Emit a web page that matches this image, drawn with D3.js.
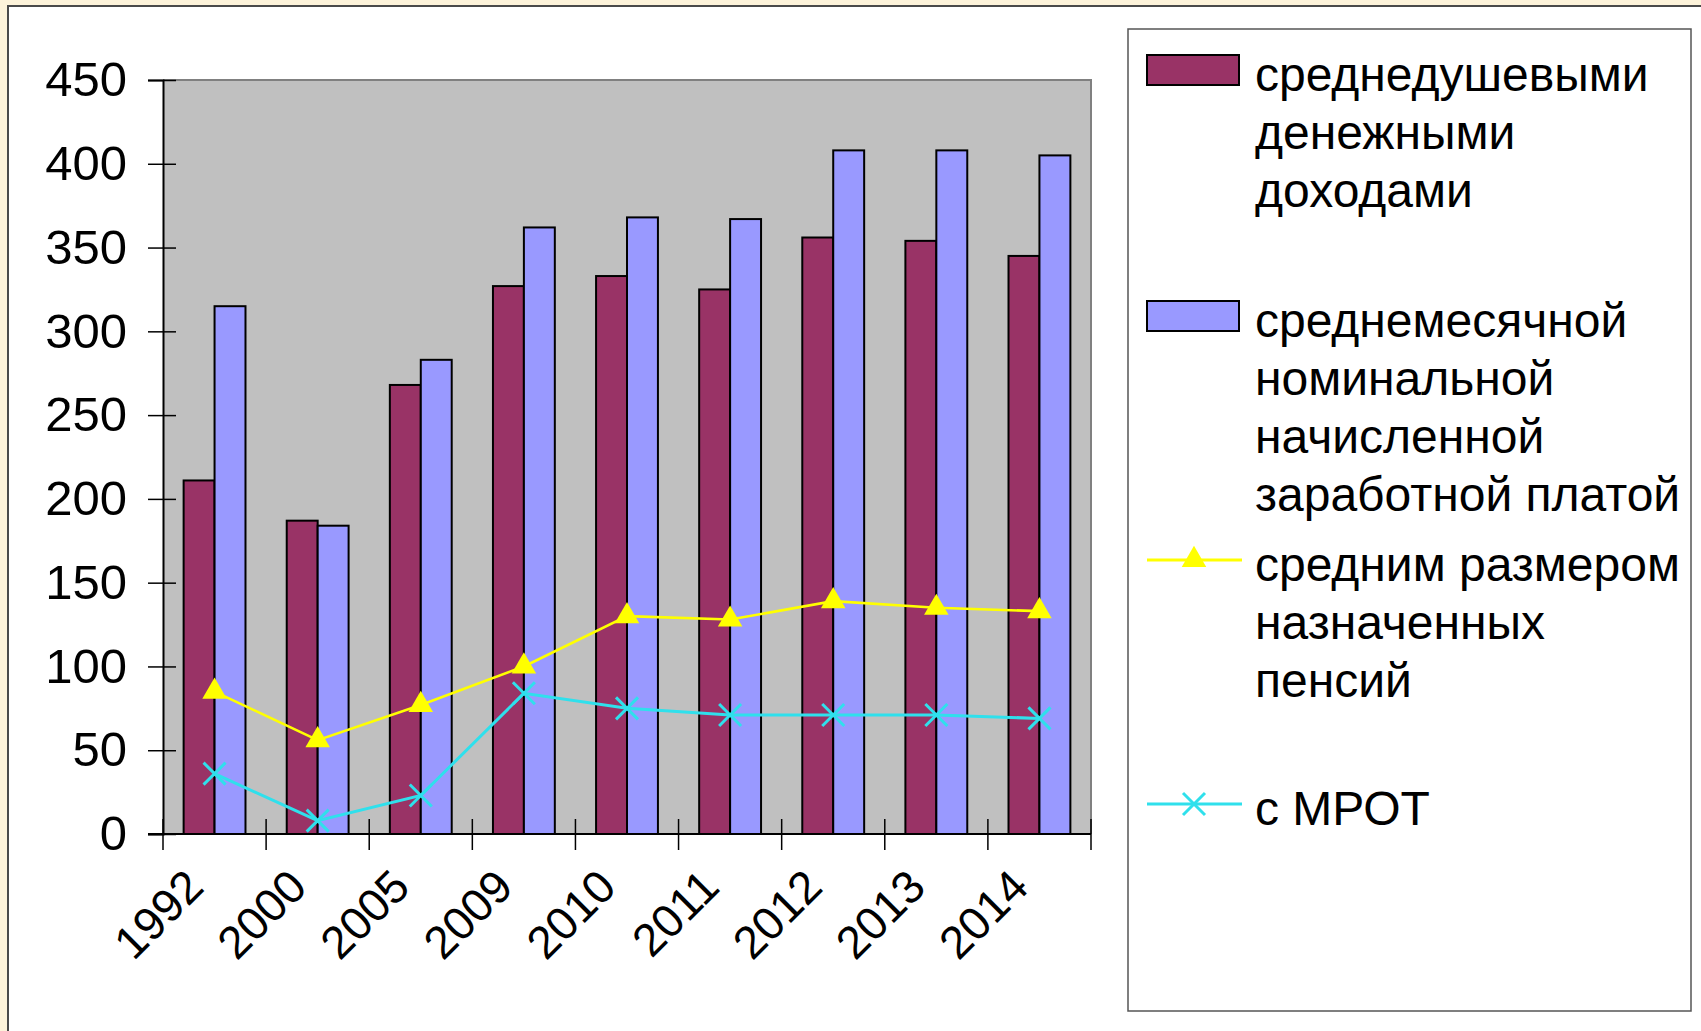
<!DOCTYPE html>
<html><head><meta charset="utf-8">
<script src="https://cdn.jsdelivr.net/npm/d3@7"></script>
<style>html,body{margin:0;padding:0;background:#fdf3da;overflow:hidden}</style>
</head>
<body>
<svg id="chart" width="1701" height="1031"></svg>
<script>
// ---- data ----
const categories = ["1992","2000","2005","2009","2010","2011","2012","2013","2014"];
const incomePerCapita = [211,187,268,327,333,325,356,354,345];
const avgWage        = [315,184,283,362,368,367,408,408,405];
const avgPension     = [85,56,77,100,130,128,139,135,133];
const minWage        = [36,8,23,84,75,71,71,71,69];
const yTicks = [0,50,100,150,200,250,300,350,400,450];
const legendLabels = [
  ["среднедушевыми","денежными","доходами"],
  ["среднемесячной","номинальной","начисленной","заработной платой"],
  ["средним размером","назначенных","пенсий"],
  ["с МРОТ"]
];

// ---- layout ----
const W = 1701, H = 1031;
const plot = {left:163, right:1091, top:80, bottom:834};
const FONT = "'Liberation Sans', Arial, sans-serif";
const FS_AXIS = 49, FS_XLAB = 46, FS_LEG = 48;
const colors = {income:"#993366", wage:"#9999ff", pension:"#ffff00", mrot:"#2fe0ec"};

const svg = d3.select("#chart");
svg.append("rect").attr("width",W).attr("height",H).attr("fill","#fdf3da");
svg.append("rect").attr("x",8).attr("y",6).attr("width",W+20).attr("height",H+20)
  .attr("fill","#fff").attr("stroke","#4a4a4a").attr("stroke-width",2);

const x = d3.scaleBand().domain(categories).range([plot.left, plot.right]);
const y = d3.scaleLinear().domain([0,450]).range([plot.bottom, plot.top]);
const bw = x.bandwidth()*0.3;
const cx = c => x(c) + x.bandwidth()/2;

// plot background
svg.append("rect").attr("x",plot.left).attr("y",plot.top)
  .attr("width",plot.right-plot.left).attr("height",plot.bottom-plot.top)
  .attr("fill","#c0c0c0");
svg.append("path")
  .attr("d",`M${plot.left},${plot.top}H${plot.right}V${plot.bottom}`)
  .attr("fill","none").attr("stroke","#808080").attr("stroke-width",2);

// bars
svg.append("g").selectAll("rect").data(categories).join("rect")
  .attr("x",c=>cx(c)-bw).attr("width",bw)
  .attr("y",(c,i)=>y(incomePerCapita[i])).attr("height",(c,i)=>y(0)-y(incomePerCapita[i]))
  .attr("fill",colors.income).attr("stroke","#000").attr("stroke-width",2);
svg.append("g").selectAll("rect").data(categories).join("rect")
  .attr("x",c=>cx(c)).attr("width",bw)
  .attr("y",(c,i)=>y(avgWage[i])).attr("height",(c,i)=>y(0)-y(avgWage[i]))
  .attr("fill",colors.wage).attr("stroke","#000").attr("stroke-width",2);

// y axis
const yAxis = svg.append("g").attr("transform",`translate(${plot.left},0)`)
  .call(d3.axisLeft(y).tickValues(yTicks).tickSize(15).tickPadding(0));
yAxis.select(".domain").attr("stroke","#000").attr("stroke-width",2);
yAxis.selectAll(".tick line").attr("x1",13).attr("x2",-15).attr("stroke","#000").attr("stroke-width",1.5);
yAxis.selectAll(".tick text").attr("x",-36).attr("font-family",FONT).attr("font-size",FS_AXIS).attr("fill","#000");

// x axis
const xAxis = svg.append("g").attr("transform",`translate(0,${plot.bottom})`)
  .call(d3.axisBottom(x).tickSize(0).tickPadding(0));
xAxis.select(".domain").remove();
xAxis.selectAll(".tick text")
  .attr("font-family",FONT).attr("font-size",FS_XLAB).attr("fill","#000")
  .attr("text-anchor","end").attr("dy","0.35em").attr("y",0)
  .attr("transform","translate(-20,44) rotate(-45)");
svg.append("line").attr("x1",plot.left-15).attr("x2",plot.right)
  .attr("y1",plot.bottom).attr("y2",plot.bottom).attr("stroke","#000").attr("stroke-width",2);
const bounds = categories.map(c=>x(c)).concat([x.range()[1]]);
svg.append("g").selectAll("line").data(bounds).join("line")
  .attr("x1",d=>d).attr("x2",d=>d).attr("y1",plot.bottom-15).attr("y2",plot.bottom+16)
  .attr("stroke","#000").attr("stroke-width",1.5);

// lines
const line = d3.line();
const triangle = d3.symbol().type(d3.symbolTriangle).size(260);
const xMark = "M-11,-11L11,11M-11,11L11,-11";

const pPts = categories.map((c,i)=>[cx(c), y(avgPension[i])]);
svg.append("path").attr("d",line(pPts)).attr("fill","none").attr("stroke",colors.pension).attr("stroke-width",2.6);
svg.append("g").selectAll("path").data(pPts).join("path")
  .attr("d",triangle()).attr("transform",d=>`translate(${d[0]},${d[1]})`).attr("fill",colors.pension);

const mPts = categories.map((c,i)=>[cx(c), y(minWage[i])]);
svg.append("path").attr("d",line(mPts)).attr("fill","none").attr("stroke",colors.mrot).attr("stroke-width",3);
svg.append("g").selectAll("path").data(mPts).join("path")
  .attr("d",xMark).attr("transform",d=>`translate(${d[0]},${d[1]})`)
  .attr("fill","none").attr("stroke",colors.mrot).attr("stroke-width",3);

// legend
const lg = {x:1128, y:29, w:563, h:982, textX:1255, lineH:58, firstLine:[77,323,567,811]};
svg.append("rect").attr("x",lg.x).attr("y",lg.y).attr("width",lg.w).attr("height",lg.h)
  .attr("fill","#fff").attr("stroke","#555").attr("stroke-width",1.5);
legendLabels.forEach((lines,k)=>{
  const c0 = lg.firstLine[k];
  const t = svg.append("text").attr("font-family",FONT).attr("font-size",FS_LEG).attr("fill","#000");
  lines.forEach((s,j)=>{
    t.append("tspan").attr("x",lg.textX).attr("y",c0 + j*lg.lineH).attr("dy","0.3em").text(s);
  });
  const sy = c0 - 7;
  if (k===0 || k===1) {
    svg.append("rect").attr("x",1147).attr("y",sy-15).attr("width",92).attr("height",30)
      .attr("fill",k===0?colors.income:colors.wage).attr("stroke","#000").attr("stroke-width",2);
  } else {
    const col = k===2?colors.pension:colors.mrot;
    svg.append("line").attr("x1",1147).attr("x2",1242).attr("y1",sy).attr("y2",sy)
      .attr("stroke",col).attr("stroke-width",3);
    if (k===2) svg.append("path").attr("d",triangle()).attr("transform",`translate(1194,${sy})`).attr("fill",col);
    else svg.append("path").attr("d",xMark).attr("transform",`translate(1194,${sy})`).attr("fill","none").attr("stroke",col).attr("stroke-width",3);
  }
});
</script>
</body></html>
